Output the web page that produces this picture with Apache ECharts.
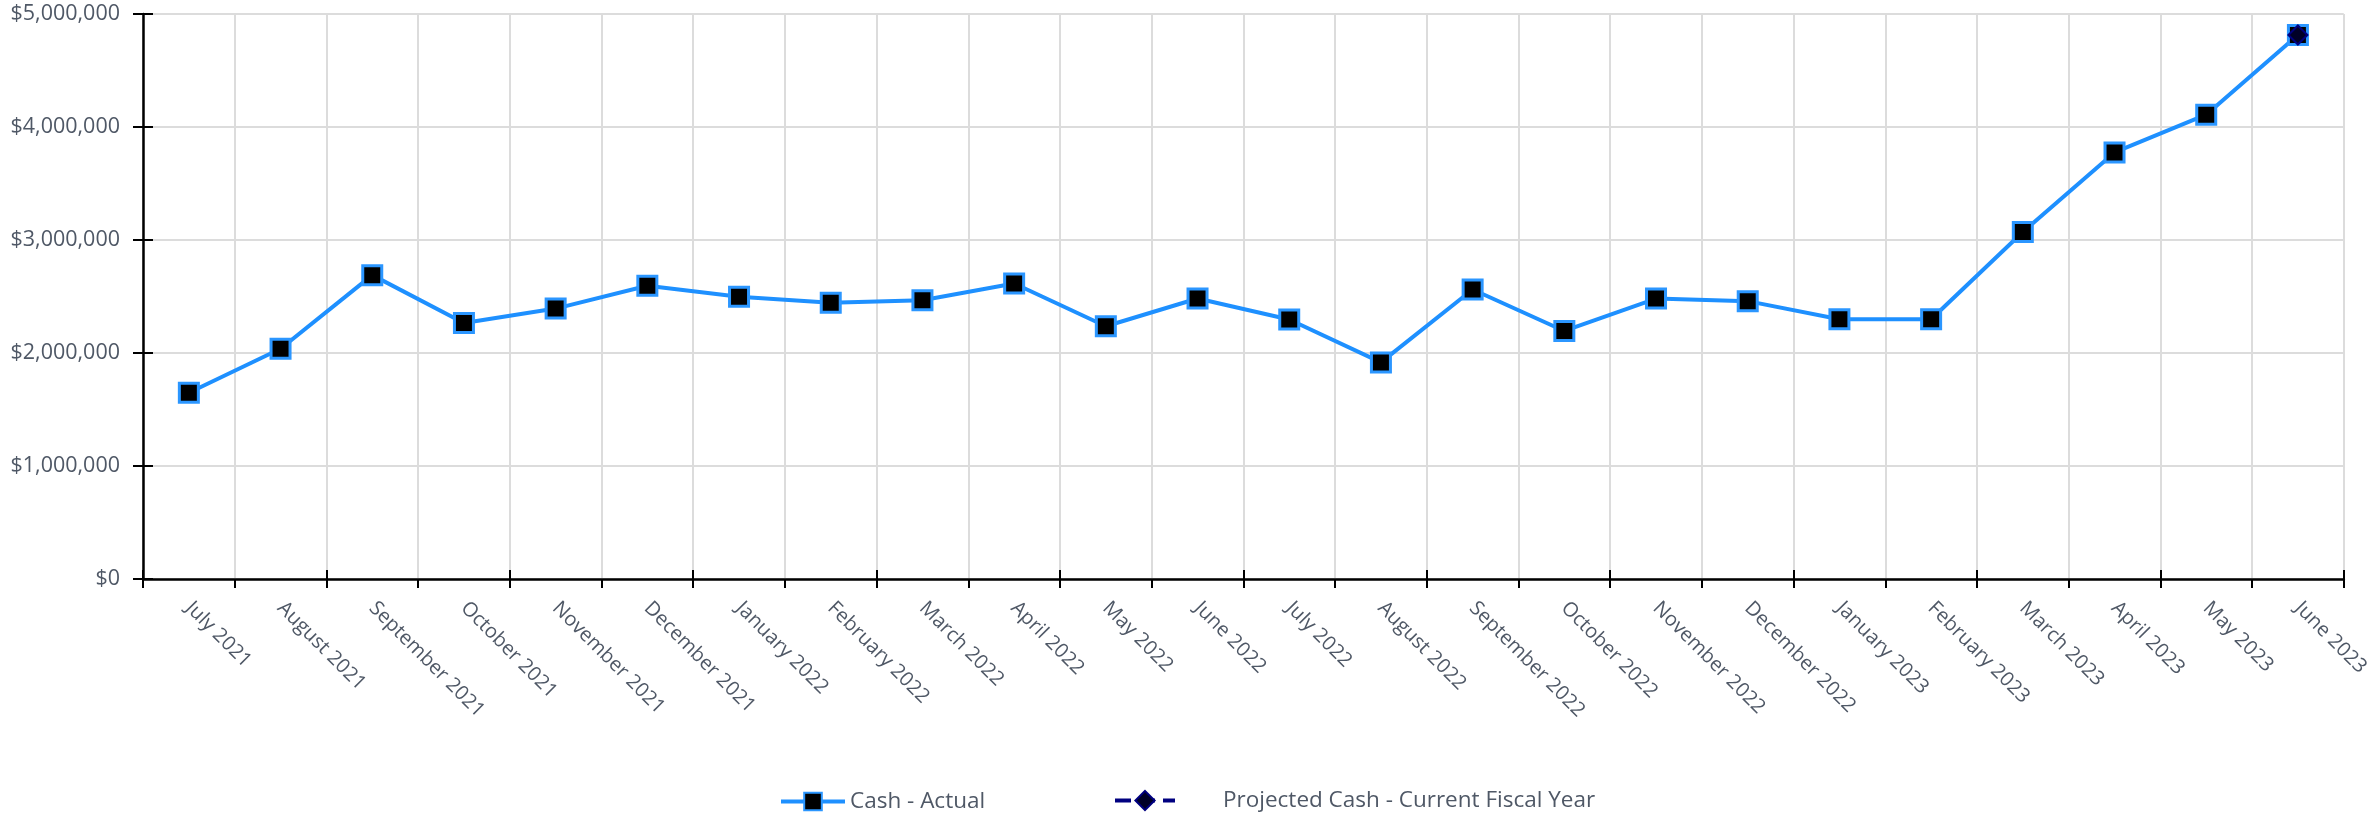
<!DOCTYPE html>
<html>
<head>
<meta charset="utf-8">
<script src="https://cdn.jsdelivr.net/npm/echarts@6/dist/echarts.min.js"></script>
<style>
html,body{margin:0;padding:0;background:#fff;}
#chart{width:2372px;height:819px;}
</style>
</head>
<body>
<div id="chart"></div>
<script>
const categories = ['July 2021','August 2021','September 2021','October 2021','November 2021','December 2021','January 2022','February 2022','March 2022','April 2022','May 2022','June 2022','July 2022','August 2022','September 2022','October 2022','November 2022','December 2022','January 2023','February 2023','March 2023','April 2023','May 2023','June 2023'];
const cashActual = [1648000,2038000,2689000,2266000,2393000,2595000,2497000,2444000,2467000,2615000,2237000,2482000,2296000,1917000,2562000,2195000,2482000,2459000,2299000,2299000,3071000,3775000,4109000,4814000];
const projectedCash = [null,null,null,null,null,null,null,null,null,null,null,null,null,null,null,null,null,null,null,null,null,null,null,4814000];
const yTicks = {min:0, max:5000000, interval:1000000};
const seriesNames = ['Cash - Actual','Projected Cash - Current Fiscal Year'];

const FONT = '"Open Sans", "Noto Sans", sans-serif';
const TXT = '#4f5866';

function money(v){ return '$' + Math.round(v).toString().replace(/\B(?=(\d{3})+(?!\d))/g, ','); }

const chart = echarts.init(document.getElementById('chart'));
chart.setOption({
  animation:false,
  backgroundColor:'#fff',
  grid:{left:143, right:18, top:14, bottom:240, containLabel:false},
  legend:[
    {data:[seriesNames[0]], left:774, top:785, itemWidth:64, itemHeight:22, itemGap:10,
     lineStyle:{width:4},
     textStyle:{fontFamily:FONT, fontSize:22.5, color:TXT}},
    {data:[seriesNames[1]], left:1108, top:784, itemWidth:60, itemHeight:24, itemGap:10,
     lineStyle:{width:4},
     textStyle:{fontFamily:FONT, fontSize:22.5, color:TXT, padding:[0,0,0,43]}}
  ],
  xAxis:[
    {type:'category', data:categories, boundaryGap:true, position:'bottom',
     axisLine:{show:true, lineStyle:{color:'#000', width:2.5}},
     axisTick:{show:true, length:9, inside:false, lineStyle:{color:'#000', width:2}},
     axisLabel:{interval:0, rotate:-45, margin:26, fontFamily:FONT, fontSize:20, color:TXT},
     splitLine:{show:true, lineStyle:{color:'#dcdcdc', width:2}}},
    {type:'category', data:categories, boundaryGap:true, position:'bottom',
     axisLine:{show:false}, axisTick:{show:true, length:9, inside:true, lineStyle:{color:'#000', width:2}},
     axisLabel:{show:false}, splitLine:{show:false}}
  ],
  yAxis:[
    {type:'value', min:yTicks.min, max:yTicks.max, interval:yTicks.interval, position:'left',
     axisLine:{show:true, lineStyle:{color:'#000', width:2.5}},
     axisTick:{show:true, length:10, lineStyle:{color:'#000', width:2}},
     axisLabel:{margin:23, fontFamily:FONT, fontSize:21.5, color:TXT, formatter:money},
     splitLine:{show:true, lineStyle:{color:'#dcdcdc', width:2}}},
    {type:'value', min:yTicks.min, max:yTicks.max, interval:yTicks.interval, position:'left',
     axisLine:{show:false}, axisTick:{show:true, inside:true, length:10, lineStyle:{color:'#000', width:2}},
     axisLabel:{show:false}, splitLine:{show:false}}
  ],
  series:[
    {name:seriesNames[0], type:'line', data:cashActual, z:2,
     symbol:'rect', symbolSize:19, showAllSymbol:true,
     lineStyle:{color:'#1e90ff', width:4},
     itemStyle:{color:'#000', borderColor:'#2b96ff', borderWidth:3}},
    {name:seriesNames[1], type:'line', data:projectedCash, z:3,
     symbol:'diamond', symbolSize:19, showAllSymbol:true,
     lineStyle:{color:'#000080', width:4, type:'dashed'},
     itemStyle:{color:'#000028', borderColor:'#000080', borderWidth:2}}
  ]
});
</script>
</body>
</html>
